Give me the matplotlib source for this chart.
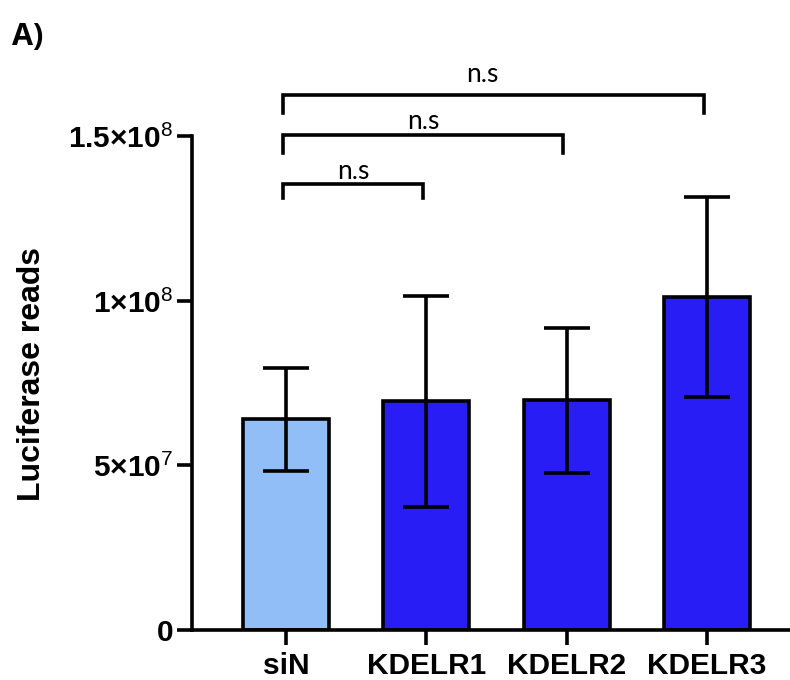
import matplotlib
matplotlib.use("Agg")
import matplotlib.pyplot as plt

plt.rcParams['mathtext.fontset'] = 'custom'
plt.rcParams['mathtext.rm'] = 'Liberation Sans'
plt.rcParams['mathtext.bf'] = 'Liberation Sans:bold'

# ---- data ----
categories = ['siN', 'KDELR1', 'KDELR2', 'KDELR3']
means = [64.0e6, 69.5e6, 69.8e6, 101.0e6]
errors = [15.7e6, 32.0e6, 22.0e6, 30.4e6]
bar_colors = ['#91BEF6', '#281EF5', '#281EF5', '#281EF5']
comparisons = [(0, 1), (0, 2), (0, 3)]
comp_labels = ['n.s', 'n.s', 'n.s']
yticks = [0, 5e7, 1e8, 1.5e8]
ytick_labels = ['0', r'$\mathbf{5{\times}10}^{\mathrm{7}}$',
                r'$\mathbf{1{\times}10}^{\mathrm{8}}$',
                r'$\mathbf{1.5{\times}10}^{\mathrm{8}}$']
ylabel = 'Luciferase reads'
panel_label = 'A)'

W, H = 790, 680
fig = plt.figure(figsize=(W / 100, H / 100), dpi=100)
ax = fig.add_axes([192 / W, 50 / H, (W - 192) / W, (630 - 136) / H])

LW = 2.6
x = list(range(len(categories)))
ax.bar(x, means, width=0.613, color=bar_colors, edgecolor='black', linewidth=LW, zorder=2)
ax.errorbar(x, means, yerr=errors, fmt='none', ecolor='black', elinewidth=LW,
            capsize=16.5, capthick=LW, zorder=3)

ax.set_xlim(-0.67, 3.59)
ax.set_ylim(0, 1.5e8)
ax.set_yticks(yticks)
ax.set_yticklabels(ytick_labels)
ax.set_xticks(x)
ax.set_xticklabels(categories)
for lab in ax.get_xticklabels() + ax.get_yticklabels():
    lab.set_fontfamily('Liberation Sans')
    lab.set_fontweight('bold')
    lab.set_fontsize(21.5)

for s in ['top', 'right']:
    ax.spines[s].set_visible(False)
for s in ['left', 'bottom']:
    ax.spines[s].set_linewidth(LW)
ax.tick_params(axis='both', length=10.5, width=LW)
ax.tick_params(axis='y', pad=3)
ax.tick_params(axis='x', pad=5)

fig.text(32 / W, 1 - 374 / H, ylabel, rotation=90, ha='center', va='center',
         fontsize=23, fontweight='bold', family='Liberation Sans')
fig.text(12 / W, 1 - 22 / H, panel_label, ha='left', va='top', fontsize=22,
         fontweight='bold', family='Open Sans')

# significance brackets
bracket_levels = [135.4e6, 150.3e6, 162.5e6]
drops = [4.3e6, 5.5e6, 5.5e6]
label_levels = [136.9e6, 152.1e6, 166.4e6]
label_shift = [-0.02, -0.02, -0.1]
for (i, j), lab, yl, d, ty, sh in zip(comparisons, comp_labels, bracket_levels, drops,
                                       label_levels, label_shift):
    x1, x2 = x[i] - 0.025, x[j] - 0.025
    ax.plot([x1, x1, x2, x2], [yl - d, yl, yl, yl - d], color='black', lw=LW,
            clip_on=False, solid_joinstyle='miter', zorder=4)
    ax.text((x[i] + x[j]) / 2 + sh, ty, lab, ha='center', va='baseline',
            fontsize=19, family='Lato', clip_on=False)

fig.savefig('out.png', dpi=100)
